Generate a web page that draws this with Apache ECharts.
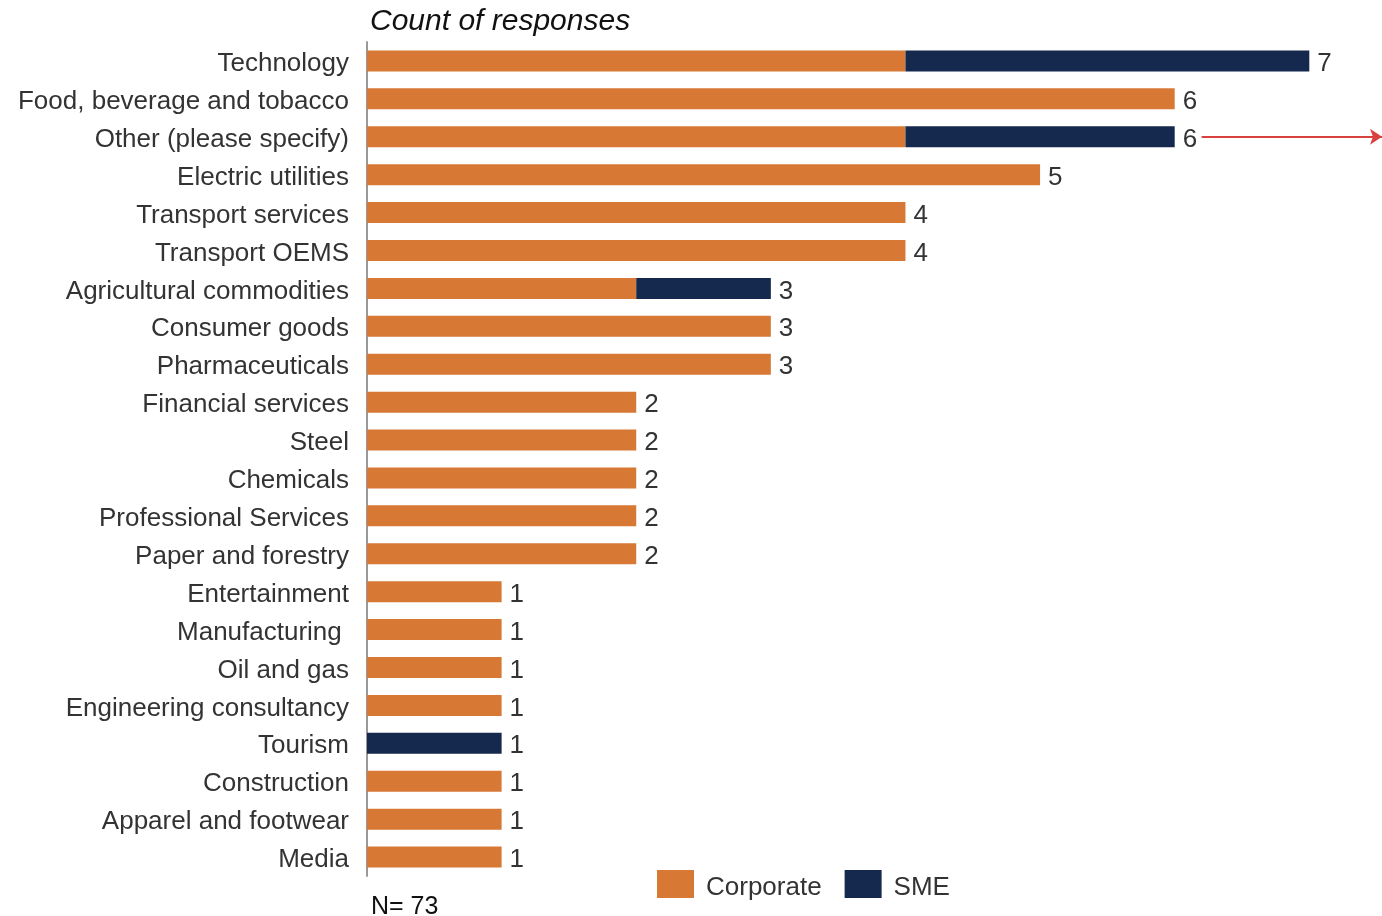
<!DOCTYPE html>
<html>
<head>
<meta charset="utf-8">
<script src="https://cdn.jsdelivr.net/npm/echarts@6/dist/echarts.min.js"></script>
<style>
  html, body { margin: 0; padding: 0; background: #fff; }
  #chart { width: 1382px; height: 916px; }
</style>
</head>
<body>
<div id="chart"></div>
<script>
// categories top to bottom
var sectors = ['Technology', 'Food, beverage and tobacco', 'Other (please specify)', 'Electric utilities',
  'Transport services', 'Transport OEMS', 'Agricultural commodities', 'Consumer goods', 'Pharmaceuticals',
  'Financial services', 'Steel', 'Chemicals', 'Professional Services', 'Paper and forestry',
  'Entertainment', 'Manufacturing ', 'Oil and gas', 'Engineering consultancy', 'Tourism',
  'Construction', 'Apparel and footwear', 'Media'];
var corporate = [4, 6, 4, 5, 4, 4, 2, 3, 3, 2, 2, 2, 2, 2, 1, 1, 1, 1, 0, 1, 1, 1];
var sme       = [3, 0, 2, 0, 0, 0, 1, 0, 0, 0, 0, 0, 0, 0, 0, 0, 0, 0, 1, 0, 0, 0];
var totals = corporate.map(function (v, i) { return v + sme[i]; });

var chart = echarts.init(document.getElementById('chart'));
var font = '"Liberation Sans", Arial, sans-serif';

// invisible series that carries the total labels
var labelSeries = {
  name: 'total',
  type: 'bar',
  stack: 'all',
  data: totals.map(function () { return 0; }),
  itemStyle: { color: 'transparent' },
  label: {
    show: true, position: 'right', distance: 8, offset: [0, 3],
    fontFamily: font, fontSize: 26, color: '#333',
    formatter: function (p) { return totals[p.dataIndex]; }
  },
  silent: true,
  markLine: {
    silent: true,
    symbol: ['none', 'arrow'],
    symbolSize: 12,
    label: { show: false },
    lineStyle: { color: '#D9413F', width: 2, type: 'solid' },
    data: [[
      { coord: [6.2, 'Other (please specify)'] },
      { coord: [7.54, 'Other (please specify)'] }
    ]]
  }
};

chart.setOption({
  animation: false,
  title: {
    text: 'Count of responses',
    left: 365, top: 2,
    textStyle: { fontFamily: font, fontSize: 30, fontStyle: 'italic', fontWeight: 'normal', color: '#111' }
  },
  legend: {
    data: ['Corporate', 'SME'],
    left: 657, top: 870, icon: 'rect', padding: 0,
    itemWidth: 37, itemHeight: 28, itemGap: 23,
    formatter: '{t|{name}}',
    textStyle: {
      fontFamily: font, fontSize: 26, color: '#333',
      rich: { t: { fontFamily: font, fontSize: 26, color: '#333', padding: [8, 0, 0, 7] } }
    }
  },
  graphic: [{
    type: 'text', left: 371, top: 895,
    style: { text: 'N= 73', font: '25px "Liberation Sans", Arial, sans-serif', fill: '#111' }
  }],
  grid: { left: 367, right: 0, top: 42, bottom: 40, containLabel: false },
  xAxis: {
    type: 'value', min: 0, max: 7.54,
    show: false, splitLine: { show: false }
  },
  yAxis: {
    type: 'category', inverse: true, data: sectors,
    axisLine: { show: true, lineStyle: { color: '#999', width: 2 } },
    axisTick: { show: false },
    axisLabel: {
      fontFamily: font, fontSize: 26, color: '#333', margin: 18,
      formatter: '{t|{value}}',
      rich: { t: { fontFamily: font, fontSize: 26, color: '#333', padding: [6, 0, 0, 0] } }
    }
  },
  series: [
    {
      name: 'Corporate', type: 'bar', stack: 'all', barWidth: 21,
      data: corporate,
      itemStyle: { color: '#D77934' }
    },
    {
      name: 'SME', type: 'bar', stack: 'all', barWidth: 21,
      data: sme,
      itemStyle: { color: '#14294D' }
    },
    labelSeries
  ]
});
</script>
</body>
</html>
